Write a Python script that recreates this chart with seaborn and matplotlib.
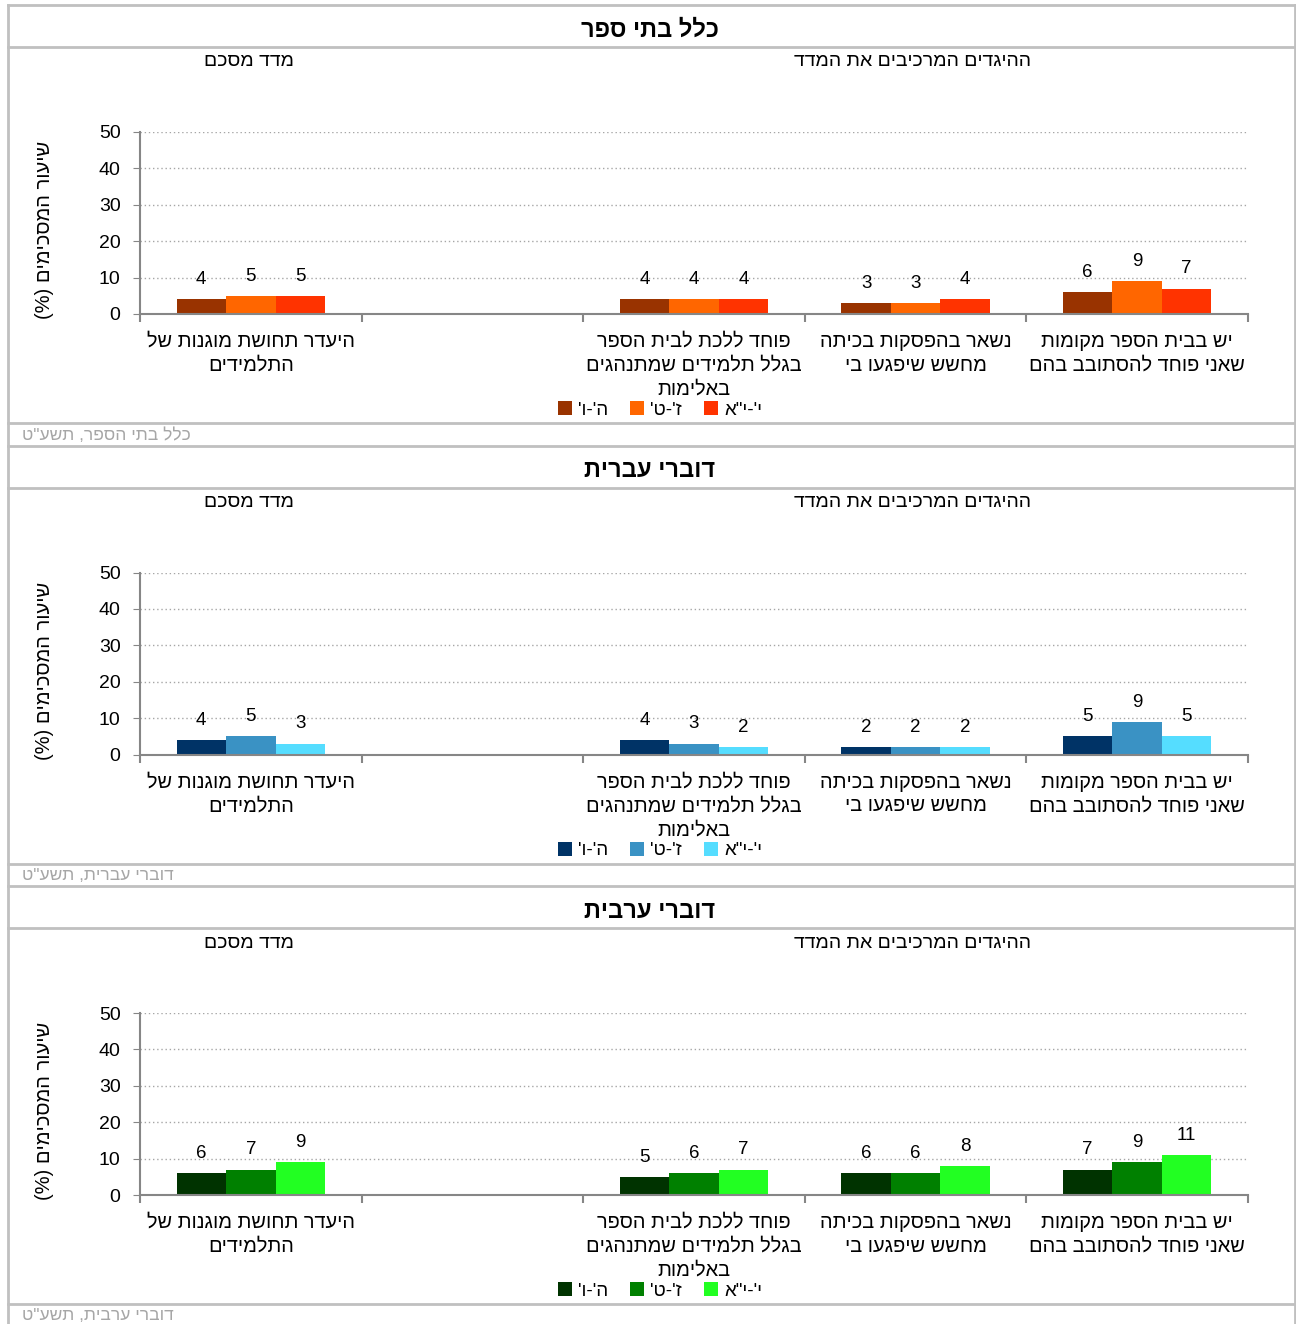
import numpy as np
import pandas as pd
import seaborn as sns
import matplotlib
matplotlib.use('Agg')
import matplotlib.pyplot as plt
from matplotlib.lines import Line2D

# categories in source (right-to-left) order; "" is the empty gap slot
items = ["יש בבית הספר מקומות\nשאני פוחד להסתובב בהם",
         "נשאר בהפסקות בכיתה\nמחשש שיפגעו בי",
         "פוחד ללכת לבית הספר\nבגלל תלמידים שמתנהגים\nבאלימות",
         "",
         "היעדר תחושת מוגנות של\nהתלמידים"]

groups = ["ה'-ו'", "ז'-ט'", "י'-י\"א"]

panel_titles = ["כלל בתי ספר", "דוברי עברית", "דוברי ערבית"]
footers = ["כלל בתי הספר, תשע\"ט", "דוברי עברית, תשע\"ט", "דוברי ערבית, תשע\"ט"]

# values per group, in the same order as items (None = no bar)
all_schools = [[6, 3, 4, None, 4],
               [9, 3, 4, None, 5],
               [7, 4, 4, None, 5]]
hebrew = [[5, 2, 4, None, 4],
          [9, 2, 3, None, 5],
          [5, 2, 2, None, 3]]
arabic = [[7, 6, 5, None, 6],
          [9, 6, 6, None, 7],
          [11, 8, 7, None, 9]]
panels = [all_schools, hebrew, arabic]

palettes = [["#993300", "#FF6600", "#FF3300"],
            ["#003366", "#3A92C4", "#55DDFF"],
            ["#003300", "#008000", "#22FF22"]]

ylabel = "שיעור המסכימים (%)"
sub_items = "ההיגדים המרכיבים את המדד"
sub_index = "מדד מסכם"


def rtl(s):
    # matplotlib has no bidi: reverse each line and mirror brackets
    out = []
    for line in s.split("\n"):
        r = line[::-1]
        r = r.replace("(", "\0").replace(")", "(").replace("\0", ")")
        out.append(r)
    return "\n".join(out)


plt.rcParams['font.family'] = ['Liberation Sans', 'DejaVu Sans']

W, H = 1296, 1324
fig = plt.figure(figsize=(W / 100, H / 100), dpi=100)


def fx(x):
    return x / W


def fy(y):
    return 1 - y / H


border = '#C0C0C0'
order = items[::-1]  # left to right on screen
hue_order = [rtl(g) for g in groups]

for p, off in enumerate([0, 440.5, 881]):
    rows = []
    for g, vals in zip(groups, panels[p]):
        for cat, v in zip(items, vals):
            if v is not None:
                rows.append({'cat': cat, 'group': rtl(g), 'value': v})
    df = pd.DataFrame(rows)

    ax = fig.add_axes([fx(140), fy(314 + off), fx(1248) - fx(140), (314 - 132) / H])
    sns.barplot(data=df, x='cat', y='value', hue='group', order=order,
                hue_order=hue_order, palette=palettes[p], width=0.67, gap=0,
                saturation=1, errorbar=None, ax=ax)

    for c in ax.containers:
        ax.bar_label(c, fmt='%d', padding=8, fontsize=13.5)

    ax.set_xlim(-0.5, 4.5)
    ax.set_ylim(0, 50)
    ax.set_yticks(range(0, 51, 10))
    ax.tick_params(axis='y', labelsize=14, length=5, pad=9, color='#868686')
    ax.set_xticks(range(5))
    ax.set_xticklabels([rtl(c) for c in order], fontsize=14.4, linespacing=1.32)
    ax.tick_params(axis='x', length=0, pad=13)
    ax.set_xticks(np.arange(-0.5, 5, 1), minor=True)
    ax.tick_params(axis='x', which='minor', length=6, width=1.5, color='#868686')
    ax.set_xlabel('')
    ax.set_ylabel('')
    for s in ['top', 'right']:
        ax.spines[s].set_visible(False)
    for s in ['left', 'bottom']:
        ax.spines[s].set_color('#868686')
        ax.spines[s].set_linewidth(1.5)
    ax.yaxis.grid(True, linestyle=(0, (1, 2)), color='#A6A6A6', lw=1)
    ax.set_axisbelow(True)

    ax.legend(ncol=3, loc='center', bbox_to_anchor=(fx(660), fy(410 + off)),
              bbox_transform=fig.transFigure, frameon=False, fontsize=13.5,
              handlelength=0.75, handleheight=0.75, handletextpad=0.3,
              columnspacing=1.2, borderpad=0)

    fig.text(fx(45), fy(230 + off), rtl(ylabel), rotation=90, ha='center',
             va='center', fontsize=14.5)
    fig.text(fx(650), fy(30 + off), rtl(panel_titles[p]), ha='center',
             va='center', fontsize=17, weight='bold')
    fig.text(fx(913), fy(62 + off), rtl(sub_items), ha='center', va='center', fontsize=14)
    fig.text(fx(249), fy(62 + off), rtl(sub_index), ha='center', va='center', fontsize=14)
    fig.text(fx(22), fy(435 + off), rtl(footers[p]), ha='left', va='center',
             fontsize=12.5, color='#A6A6A6')

    for y in [5, 47, 423]:
        fig.add_artist(Line2D([fx(8), fx(1295)], [fy(y + off)] * 2, color=border, lw=2))

for x in [8, 1295]:
    fig.add_artist(Line2D([fx(x)] * 2, [fy(5), fy(1324)], color=border, lw=2))

fig.savefig('out.png', dpi=100)
